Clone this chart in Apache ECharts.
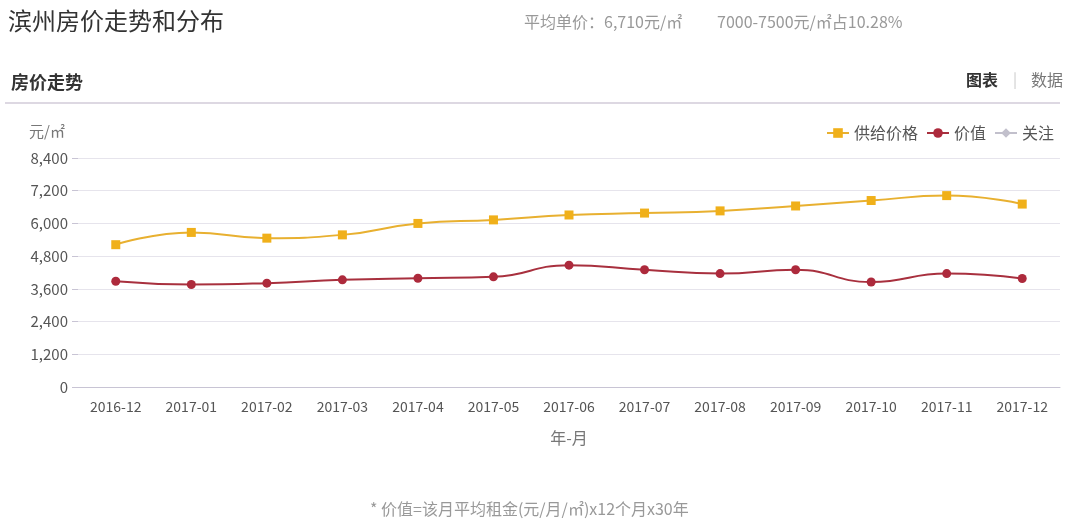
<!DOCTYPE html>
<html><head><meta charset="utf-8">
<script src="https://cdn.jsdelivr.net/npm/echarts@6/dist/echarts.min.js"></script>
<style>html,body{margin:0;padding:0;background:#fff}#c{width:1069px;height:523px}</style>
</head><body><div id="c"></div>
<script>
const categories = ['2016-12','2017-01','2017-02','2017-03','2017-04','2017-05','2017-06','2017-07','2017-08','2017-09','2017-10','2017-11','2017-12'];
const supplyPrice = [5220, 5670, 5460, 5580, 6000, 6130, 6310, 6380, 6460, 6640, 6840, 7020, 6710];
const value = [3880, 3760, 3810, 3930, 3990, 4040, 4470, 4300, 4160, 4300, 3850, 4160, 3980];
const attention = [];
const yTicks = [0, 1200, 2400, 3600, 4800, 6000, 7200, 8400];
const F = '"Noto Sans CJK SC", "Microsoft YaHei", sans-serif';

const chart = echarts.init(document.getElementById('c'));
chart.setOption({
  animation: false,
  textStyle: { fontFamily: F },
  title: [
    { text: '滨州房价走势和分布', left: 3, top: 4, textStyle: { fontSize: 24, fontWeight: 'normal', color: '#333', fontFamily: F } },
    { text: '平均单价：6,710元/㎡', left: 519, top: 9, textStyle: { fontSize: 16, fontWeight: 'normal', color: '#999', fontFamily: F } },
    { text: '7000-7500元/㎡占10.28%', left: 712, top: 9, textStyle: { fontSize: 16, fontWeight: 'normal', color: '#999', fontFamily: F } },
    { text: '房价走势', left: 6, top: 68, textStyle: { fontSize: 18, fontWeight: 'bold', color: '#333', fontFamily: F } },
    { text: '图表', left: 961, top: 67, textStyle: { fontSize: 16, fontWeight: 'bold', color: '#333', fontFamily: F } },
    { text: '|', left: 1008, top: 67, textStyle: { fontSize: 15, fontWeight: 'normal', color: '#ccc', fontFamily: F } },
    { text: '数据', left: 1026, top: 67, textStyle: { fontSize: 16, fontWeight: 'normal', color: '#777', fontFamily: F } },
    { text: '* 价值=该月平均租金(元/月/㎡)x12个月x30年', left: 365, top: 496, textStyle: { fontSize: 16, fontWeight: 'normal', color: '#999', fontFamily: F } }
  ],
  graphic: [
    { type: 'rect', shape: { x: 5, y: 102, width: 1055, height: 2 }, style: { fill: '#ddd8e2' } }
  ],
  legend: {
    right: 10, top: 120, itemGap: 8, itemWidth: 22, itemHeight: 12,
    textStyle: { fontSize: 16, color: '#555', fontFamily: F },
    data: ['供给价格', '价值', '关注']
  },
  grid: { left: 78, right: 9, top: 158, bottom: 136 },
  xAxis: {
    type: 'category', data: categories, boundaryGap: true,
    name: '年-月', nameLocation: 'middle', nameGap: 43,
    nameTextStyle: { fontSize: 16, color: '#777' },
    axisLine: { lineStyle: { color: '#c8c4d4' } },
    axisTick: { alignWithLabel: true, lineStyle: { color: '#c8c4d4' } },
    axisLabel: { fontSize: 14, color: '#555', margin: 13 }
  },
  yAxis: {
    type: 'value', min: 0, max: 8400, interval: 1200,
    name: '元/㎡', nameGap: 19, nameTextStyle: { fontSize: 15, color: '#777', align: 'right', padding: [0, 13, 0, 0] },
    axisLine: { show: false },
    axisTick: { show: true, length: 6, lineStyle: { color: '#c8c4d4' } },
    splitLine: { lineStyle: { color: '#e6e4ec' } },
    axisLabel: { fontSize: 15, color: '#555', margin: 10,
      formatter: v => yTicks.includes(v) ? v.toLocaleString('en-US') : '' }
  },
  series: [
    { name: '供给价格', type: 'line', data: supplyPrice, smooth: true, symbol: 'rect', symbolSize: 9,
      itemStyle: { color: '#f0b01a' }, lineStyle: { color: '#e8b030', width: 2 } },
    { name: '价值', type: 'line', data: value, smooth: true, symbol: 'circle', symbolSize: 9,
      itemStyle: { color: '#ad2a3c' }, lineStyle: { color: '#a8303e', width: 2 } },
    { name: '关注', type: 'line', data: attention, smooth: true, symbol: 'diamond', symbolSize: 8,
      itemStyle: { color: '#c2c0cc' }, lineStyle: { color: '#c2c0cc', width: 2 } }
  ]
});
</script></body></html>
